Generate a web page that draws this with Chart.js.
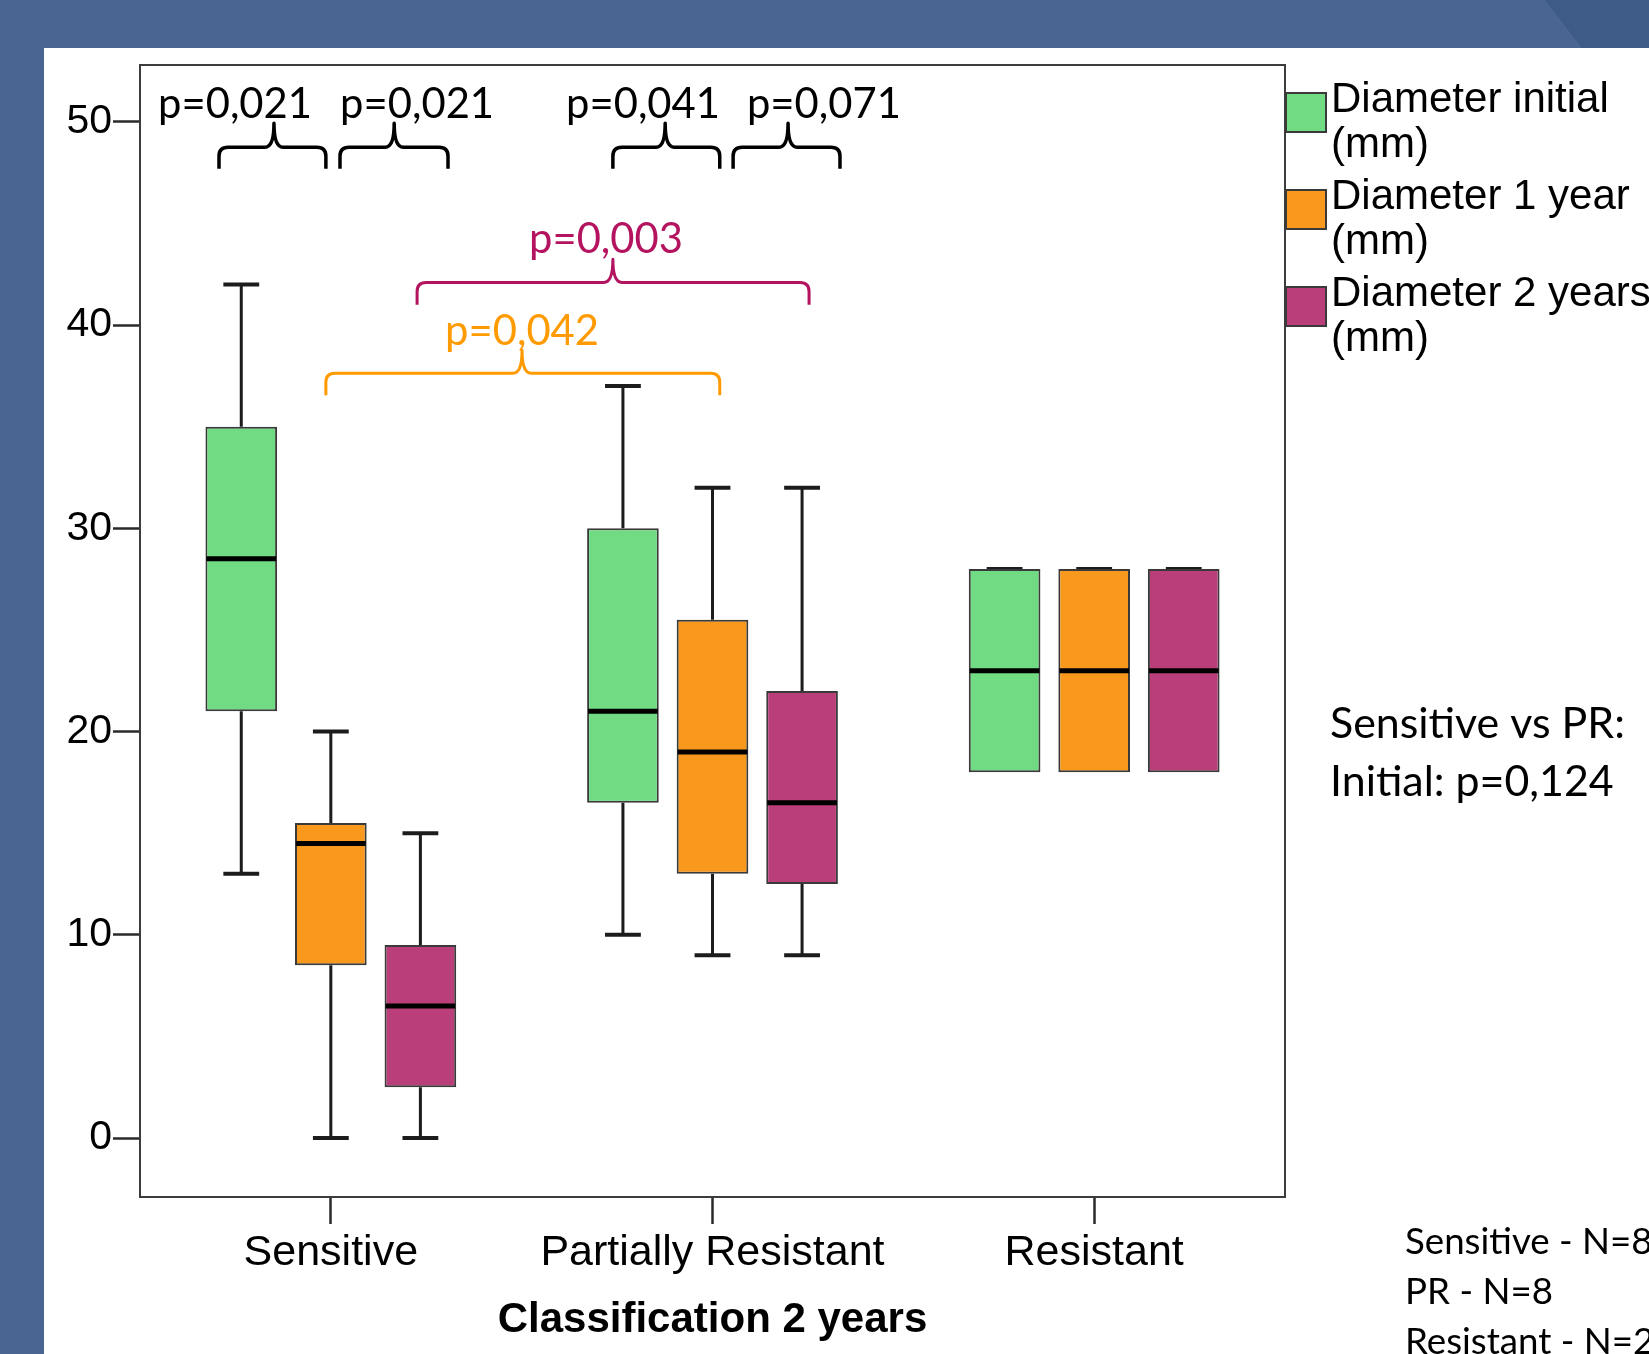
<!DOCTYPE html>
<html><head><meta charset="utf-8">
<script src="https://cdn.jsdelivr.net/npm/chart.js@4.4.1/dist/chart.umd.min.js"></script>
<style>
html,body{margin:0;padding:0;width:1649px;height:1354px;overflow:hidden;background:#4a6591;}
#corner{position:absolute;left:0;top:0;width:1649px;height:48px;background:#3e5a86;clip-path:polygon(1545px 0,1649px 0,1649px 48px,1582px 48px);}
#panel{position:absolute;left:44px;top:48px;width:1605px;height:1306px;background:#fff;}
#c{position:absolute;left:0;top:0;}
</style></head>
<body>
<div id="corner"></div>
<div id="panel"></div>
<canvas id="c" width="1649" height="1354"></canvas>
<script>
// ---------- data ----------
const categories = ['Sensitive', 'Partially Resistant', 'Resistant'];
const seriesNames = ['Diameter initial (mm)', 'Diameter 1 year (mm)', 'Diameter 2 years (mm)'];
const initialMin    = [13, 10, 18];
const initialQ1     = [21, 16.5, 18];
const initialMedian = [28.5, 21, 23];
const initialQ3     = [35, 30, 28];
const initialMax    = [42, 37, 28];
const year1Min    = [0, 9, 18];
const year1Q1     = [8.5, 13, 18];
const year1Median = [14.5, 19, 23];
const year1Q3     = [15.5, 25.5, 28];
const year1Max    = [20, 32, 28];
const year2Min    = [0, 9, 18];
const year2Q1     = [2.5, 12.5, 18];
const year2Median = [6.5, 16.5, 23];
const year2Q3     = [9.5, 22, 28];
const year2Max    = [15, 32, 28];
const yTicks = [0, 10, 20, 30, 40, 50];
const pLabels = ['p=0,021', 'p=0,021', 'p=0,041', 'p=0,071', 'p=0,003', 'p=0,042'];
const sideNote = ['Sensitive vs PR:', 'Initial: p=0,124'];
const countNote = ['Sensitive - N=8', 'PR - N=8', 'Resistant - N=2'];

// ---------- styles / layout ----------
const colors = ['#71db83', '#f8981d', '#ba3e79'];
const stats = [
  {min: initialMin, q1: initialQ1, med: initialMedian, q3: initialQ3, max: initialMax},
  {min: year1Min, q1: year1Q1, med: year1Median, q3: year1Q3, max: year1Max},
  {min: year2Min, q1: year2Q1, med: year2Median, q3: year2Q3, max: year2Max}
];
// brace annotations: x in category-index units, y in data units
const braces = [
  {x0: -0.293, x1: -0.013, xt: -0.149, yTip: 49.93, yLine: 48.75, yEnd: 47.7, tx: -0.251, ty: 50.17, color: '#000', lw: 3.5},
  {x0: 0.024, x1: 0.307, xt: 0.166, yTip: 49.93, yLine: 48.75, yEnd: 47.7, tx: 0.226, ty: 50.17, color: '#000', lw: 3.5},
  {x0: 0.739, x1: 1.019, xt: 0.876, yTip: 49.93, yLine: 48.75, yEnd: 47.7, tx: 0.818, ty: 50.17, color: '#000', lw: 3.5},
  {x0: 1.054, x1: 1.334, xt: 1.198, yTip: 49.93, yLine: 48.75, yEnd: 47.7, tx: 1.292, ty: 50.17, color: '#000', lw: 3.5},
  {x0: 0.226, x1: 1.253, xt: 0.739, yTip: 43.24, yLine: 42.1, yEnd: 41.0, tx: 0.721, ty: 43.53, color: '#b4145f', lw: 3},
  {x0: -0.013, x1: 1.019, xt: 0.501, yTip: 38.76, yLine: 37.63, yEnd: 36.55, tx: 0.501, ty: 39.0, color: '#ff9a00', lw: 3}
];

function fitSize(ctx, text, family, target) {
  ctx.save();
  ctx.font = '100px ' + family;
  const w = ctx.measureText(text).width;
  ctx.restore();
  return 100 * target / w;
}

function drawBrace(ctx, x0, x1, xt, yTip, yLine, yEnd) {
  const r = 9;
  ctx.beginPath();
  ctx.moveTo(x0, yEnd);
  ctx.lineTo(x0, yLine + r);
  ctx.quadraticCurveTo(x0, yLine, x0 + r, yLine);
  ctx.lineTo(xt - 9, yLine);
  ctx.quadraticCurveTo(xt, yLine, xt, yTip);
  ctx.quadraticCurveTo(xt, yLine, xt + 9, yLine);
  ctx.lineTo(x1 - r, yLine);
  ctx.quadraticCurveTo(x1, yLine, x1, yLine + r);
  ctx.lineTo(x1, yEnd);
  ctx.stroke();
}

const boxPlugin = {
  id: 'boxplot',
  beforeDatasetsDraw(chart) {
    const ctx = chart.ctx, y = chart.scales.y;
    ctx.save();
    ctx.strokeStyle = '#1c1c1c';
    stats.forEach((s, i) => {
      chart.getDatasetMeta(i).data.forEach((bar, j) => {
        const x = bar.x, w = bar.width;
        const pMin = y.getPixelForValue(s.min[j]), pMax = y.getPixelForValue(s.max[j]);
        const pQ1 = y.getPixelForValue(s.q1[j]), pQ3 = y.getPixelForValue(s.q3[j]);
        ctx.lineWidth = 3;
        ctx.beginPath();
        ctx.moveTo(x, pQ1); ctx.lineTo(x, pMin);
        ctx.moveTo(x, pQ3); ctx.lineTo(x, pMax);
        ctx.stroke();
        ctx.lineWidth = 4;
        ctx.beginPath();
        if (s.min[j] < s.q1[j]) { ctx.moveTo(x - w / 4, pMin); ctx.lineTo(x + w / 4, pMin); }
        ctx.moveTo(x - w / 4, pMax); ctx.lineTo(x + w / 4, pMax);
        ctx.stroke();
      });
    });
    ctx.restore();
  },
  afterDatasetsDraw(chart) {
    const ctx = chart.ctx, y = chart.scales.y;
    ctx.save();
    ctx.strokeStyle = '#000';
    ctx.lineWidth = 5;
    stats.forEach((s, i) => {
      chart.getDatasetMeta(i).data.forEach((bar, j) => {
        const pMed = y.getPixelForValue(s.med[j]);
        ctx.beginPath();
        ctx.moveTo(bar.x - bar.width / 2 + 1, pMed);
        ctx.lineTo(bar.x + bar.width / 2 - 1, pMed);
        ctx.stroke();
      });
    });
    ctx.restore();
  },
  afterDraw(chart) {
    const ctx = chart.ctx, y = chart.scales.y, xs = chart.scales.x;
    const a = chart.chartArea;
    const c0 = xs.getPixelForValue(0), step = xs.getPixelForValue(1) - c0;
    const px = c => c0 + c * step;
    ctx.save();
    // frame
    ctx.strokeStyle = '#3c3c3c';
    ctx.lineWidth = 2;
    ctx.strokeRect(a.left, a.top, a.right - a.left, a.bottom - a.top);
    // legend
    const lf = '42px "Liberation Sans", Arial, sans-serif';
    seriesNames.forEach((name, i) => {
      const top = a.top + 28 + i * 97;
      ctx.fillStyle = colors[i];
      ctx.fillRect(a.right + 1, top, 40, 39);
      ctx.strokeStyle = '#3a3a3a';
      ctx.lineWidth = 2;
      ctx.strokeRect(a.right + 1, top, 40, 39);
      ctx.fillStyle = '#000';
      ctx.font = lf;
      ctx.textAlign = 'left';
      ctx.textBaseline = 'alphabetic';
      const k = name.indexOf(' (');
      ctx.fillText(name.slice(0, k), a.right + 46, top + 19);
      ctx.fillText(name.slice(k + 1), a.right + 46, top + 64);
    });
    // braces + p-values
    const pSize = fitSize(ctx, pLabels[0], 'Lato', 154);
    braces.forEach((b, i) => {
      ctx.strokeStyle = b.color;
      ctx.lineWidth = b.lw;
      ctx.lineJoin = 'round';
      drawBrace(ctx, px(b.x0), px(b.x1), px(b.xt), y.getPixelForValue(b.yTip), y.getPixelForValue(b.yLine), y.getPixelForValue(b.yEnd));
      ctx.fillStyle = b.color;
      ctx.font = pSize + 'px Lato';
      ctx.textAlign = 'center';
      ctx.textBaseline = 'alphabetic';
      ctx.fillText(pLabels[i], px(b.tx), y.getPixelForValue(b.ty));
    });
    // side notes
    ctx.fillStyle = '#000';
    ctx.textAlign = 'left';
    const sSize = fitSize(ctx, sideNote[0], 'Lato', 295);
    ctx.font = sSize + 'px Lato';
    ctx.fillText(sideNote[0], a.right + 45, 738);
    ctx.fillText(sideNote[1], a.right + 45, 796);
    const nSize = fitSize(ctx, countNote[1], 'Lato', 148);
    ctx.font = nSize + 'px Lato';
    countNote.forEach((t, i) => ctx.fillText(t, a.right + 120, 1254 + i * 50));
    ctx.restore();
  }
};

const tickGrid = {display: true, drawOnChartArea: false, drawTicks: true, tickLength: 27, tickWidth: 2.5, tickColor: '#2a2a2a'};

new Chart(document.getElementById('c'), {
  type: 'bar',
  data: {
    labels: categories,
    datasets: stats.map((s, i) => ({
      label: seriesNames[i],
      data: s.q1.map((q, j) => [q, s.q3[j]]),
      backgroundColor: colors[i],
      borderColor: '#3a3a3a',
      borderWidth: 2,
      borderSkipped: false
    }))
  },
  options: {
    responsive: false,
    animation: false,
    devicePixelRatio: 1,
    layout: {padding: {top: 65, right: 364, left: 0, bottom: 0}},
    plugins: {legend: {display: false}, tooltip: {enabled: false}},
    datasets: {bar: {categoryPercentage: 0.704, barPercentage: 0.8}},
    scales: {
      x: {
        offset: true,
        grid: Object.assign({offset: false}, tickGrid),
        border: {display: false},
        ticks: {font: {family: '"Liberation Sans", Arial, sans-serif', size: 43}, color: '#000', padding: 3, maxRotation: 0, autoSkip: false},
        title: {display: true, text: 'Classification 2 years', color: '#000',
                font: {family: '"Liberation Sans", Arial, sans-serif', size: 42, weight: 'bold'},
                padding: {top: 0, bottom: 8}},
        afterFit(s) { s.height = 157; }
      },
      y: {
        min: -2.9, max: 52.8,
        afterBuildTicks(s) { s.ticks = yTicks.map(v => ({value: v})); },
        grid: tickGrid,
        border: {display: false},
        ticks: {font: {family: '"Liberation Sans", Arial, sans-serif', size: 41}, color: '#000', padding: 1},
        afterFit(s) { s.width = 140; }
      }
    }
  },
  plugins: [boxPlugin]
});
</script>
</body></html>
